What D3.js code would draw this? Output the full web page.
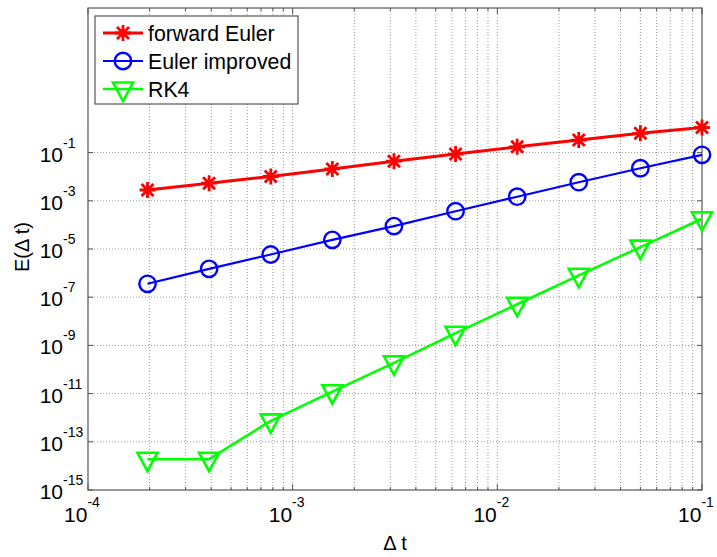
<!DOCTYPE html>
<html>
<head>
<meta charset="utf-8">
<script src="https://cdn.jsdelivr.net/npm/d3@7"></script>
<style>
  body { margin: 0; background: #fff; }
  text { font-family: "Liberation Sans", Arial, Helvetica, sans-serif; fill: #000; }
</style>
</head>
<body>
<div id="chart"></div>
<script>
// step sizes and errors
const dt = [1.953125e-4, 3.90625e-4, 7.8125e-4, 1.5625e-3, 3.125e-3, 6.25e-3, 1.25e-2, 2.5e-2, 5e-2, 1e-1];
const errEuler = [2.8e-3, 5.4e-3, 1.02e-2, 2.1e-2, 4.4e-2, 8.7e-2, 0.174, 0.33, 0.63, 1.1];
const errImproved = [3.6e-7, 1.5e-6, 5.9e-6, 2.4e-5, 8.9e-5, 3.7e-4, 1.48e-3, 5.9e-3, 2.24e-2, 8.1e-2];
const errRK4 = [1.9e-14, 1.9e-14, 7.4e-13, 1.2e-11, 1.9e-10, 3.2e-9, 5.1e-8, 8.1e-7, 1.2e-5, 1.8e-4];
const seriesNames = ["forward Euler", "Euler improved", "RK4"];
const xTickExp = [-4, -3, -2, -1];
const yTickExp = [-15, -13, -11, -9, -7, -5, -3, -1];

const svgWidth = 717, svgHeight = 557;
const margin = { top: 8, right: 15, bottom: 67, left: 88 };
const width = svgWidth - margin.left - margin.right;
const height = svgHeight - margin.top - margin.bottom;

const x = d3.scaleLog().domain([1e-4, 1e-1]).range([0, width]);
const y = d3.scaleLog().domain([1e-15, 1e5]).range([height, 0]);

const svg = d3.select("#chart").append("svg")
  .attr("width", svgWidth)
  .attr("height", svgHeight);

const g = svg.append("g").attr("transform", `translate(${margin.left},${margin.top})`);

// minor + major x positions for the grid
let xGrid = [];
for (let e = -4; e < -1; e++) {
  for (let m = 1; m < 10; m++) xGrid.push(m * Math.pow(10, e));
}
xGrid.push(1e-1);
const yMajor = yTickExp.map(e => Math.pow(10, e));

// grid
g.append("g").selectAll("line.vg")
  .data(xGrid.filter(v => v > 1e-4 && v < 1e-1))
  .join("line")
  .attr("x1", d => x(d)).attr("x2", d => x(d))
  .attr("y1", 0).attr("y2", height)
  .attr("stroke", "#9a9a9a").attr("stroke-width", 1)
  .attr("stroke-dasharray", "1,2");

g.append("g").selectAll("line.hg")
  .data(yMajor.filter(v => v > 1e-15))
  .join("line")
  .attr("x1", 0).attr("x2", width)
  .attr("y1", d => y(d)).attr("y2", d => y(d))
  .attr("stroke", "#9a9a9a").attr("stroke-width", 1)
  .attr("stroke-dasharray", "1,2");

// inward ticks on all four sides
const axColor = "#555";
const tickLen = v => (xTickExp.some(e => Math.abs(Math.log10(v) - e) < 1e-9) ? 6 : 3);
[0, height].forEach((yy, i) => {
  g.append("g").selectAll("line")
    .data(xGrid)
    .join("line")
    .attr("x1", d => x(d)).attr("x2", d => x(d))
    .attr("y1", yy).attr("y2", d => yy + (i === 0 ? tickLen(d) : -tickLen(d)))
    .attr("stroke", axColor);
});
[0, width].forEach((xx, i) => {
  g.append("g").selectAll("line")
    .data(yMajor)
    .join("line")
    .attr("y1", d => y(d)).attr("y2", d => y(d))
    .attr("x1", xx).attr("x2", i === 0 ? xx + 5 : xx - 5)
    .attr("stroke", axColor);
});

g.append("rect")
  .attr("width", width).attr("height", height)
  .attr("fill", "none").attr("stroke", axColor).attr("stroke-width", 1.2);

// x tick labels: 10^e
const xl = g.append("g").selectAll("text")
  .data(xTickExp)
  .join("text")
  .attr("x", d => x(Math.pow(10, d)) - 6)
  .attr("y", height + 32)
  .attr("text-anchor", "middle")
  .style("font-size", "21px");
xl.append("tspan").text("10");
xl.append("tspan").attr("dy", -15).style("font-size", "14px").text(d => d);

// y tick labels
const yl = g.append("g").selectAll("text")
  .data(yTickExp)
  .join("text")
  .attr("y", d => y(Math.pow(10, d)) + 9)
  .style("font-size", "21px");
yl.append("tspan").attr("x", -25).attr("text-anchor", "end").text("10");
yl.append("tspan").attr("x", -25).attr("dy", -14).attr("text-anchor", "start")
  .style("font-size", "14px").text(d => d);

// axis titles
svg.append("text")
  .attr("x", margin.left + width / 2)
  .attr("y", 550)
  .attr("text-anchor", "middle")
  .style("font-size", "20px")
  .text("\u0394 t");

svg.append("text")
  .attr("transform", `translate(29,${margin.top + height / 2 - 2}) rotate(-90)`)
  .attr("text-anchor", "middle")
  .style("font-size", "20px")
  .text("E(\u0394 t)");

// series
const series = [
  { name: seriesNames[0], values: errEuler, color: "#ff0000", lw: 3, marker: "star" },
  { name: seriesNames[1], values: errImproved, color: "#0000ff", lw: 2.2, marker: "circle" },
  { name: seriesNames[2], values: errRK4, color: "#00ff00", lw: 2.5, marker: "tri" }
];

const line = d3.line().x(d => x(d[0])).y(d => y(d[1]));

function drawMarker(sel, type, color) {
  if (type === "star") {
    sel.append("path")
      .attr("d", "M0,-8V8M-8,0H8M-6,-6L6,6M-6,6L6,-6")
      .attr("stroke", color).attr("stroke-width", 2.8).attr("fill", "none");
  } else if (type === "circle") {
    sel.append("circle").attr("r", 8.2)
      .attr("stroke", color).attr("stroke-width", 2.4).attr("fill", "none");
  } else {
    sel.append("path")
      .attr("d", "M-10,-6.5H10L0,12Z")
      .attr("stroke", color).attr("stroke-width", 2.6).attr("fill", "none")
      .attr("stroke-linejoin", "miter");
  }
}

series.forEach(s => {
  const pts = dt.map((t, i) => [t, s.values[i]]);
  g.append("path")
    .datum(pts)
    .attr("d", line)
    .attr("fill", "none")
    .attr("stroke", s.color)
    .attr("stroke-width", s.lw);
  g.append("g").selectAll("g")
    .data(pts)
    .join("g")
    .attr("transform", d => `translate(${x(d[0])},${y(d[1])})`)
    .each(function () { drawMarker(d3.select(this), s.marker, s.color); });
});

// legend
const lg = svg.append("g").attr("transform", "translate(95,16)");
lg.append("rect")
  .attr("width", 203).attr("height", 88)
  .attr("fill", "#fff").attr("stroke", axColor).attr("stroke-width", 1.2);
series.forEach((s, i) => {
  const row = lg.append("g").attr("transform", `translate(0,${17 + i * 28})`);
  row.append("line")
    .attr("x1", 8).attr("x2", 48)
    .attr("stroke", s.color).attr("stroke-width", s.lw);
  const m = row.append("g").attr("transform", "translate(28,0)");
  drawMarker(m, s.marker, s.color);
  row.append("text")
    .attr("x", 53).attr("y", 7.5)
    .style("font-size", "21.3px")
    .text(s.name);
});
</script>
</body>
</html>
